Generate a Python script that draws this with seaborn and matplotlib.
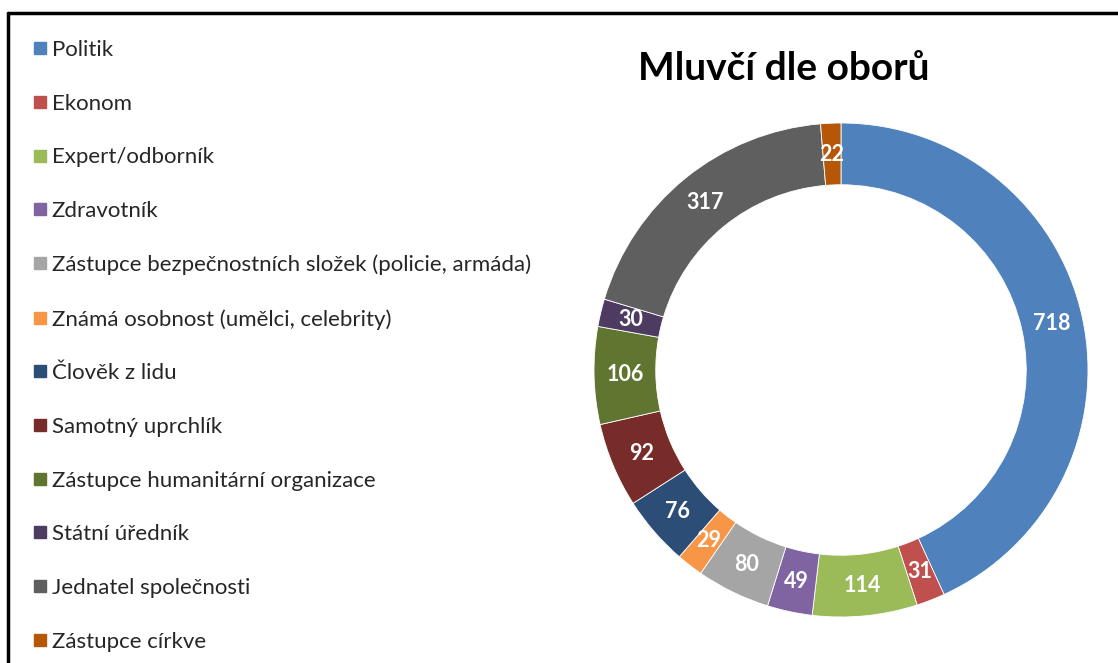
import numpy as np
import matplotlib.pyplot as plt
import seaborn as sns
from matplotlib.lines import Line2D

# Data
kategorie = ['Politik', 'Ekonom', 'Expert/odborník', 'Zdravotník',
             'Zástupce bezpečnostních složek (policie, armáda)',
             'Známá osobnost (umělci, celebrity)', 'Člověk z lidu',
             'Samotný uprchlík', 'Zástupce humanitární organizace',
             'Státní úředník', 'Jednatel společnosti', 'Zástupce církve']
pocty = [718, 31, 114, 49, 80, 29, 76, 92, 106, 30, 317, 22]
barvy = ['#4f81bd', '#c0504d', '#9bbb59', '#8064a2', '#a5a5a5', '#f79646',
         '#2c4d75', '#772c2a', '#5f7530', '#4d3b62', '#5f5f5f', '#b65708']

sns.set_style('white')
plt.rcParams['font.family'] = ['Lato', 'DejaVu Sans']

fig = plt.figure(figsize=(11.18, 6.63), dpi=100)
W, H = 1118, 663

# donut axes: centre (841, 370) px, outer radius 247 px
cx, cy, r = 841, 370, 247
ax = fig.add_axes([(cx - r) / W, (H - cy - r) / H, 2 * r / W, 2 * r / H])

wedges, _, popisky = ax.pie(pocty, colors=barvy, startangle=90, counterclock=False,
                            radius=1, autopct=lambda p: f'{p * sum(pocty) / 100:.0f}',
                            pctdistance=0.875,
                            wedgeprops=dict(width=0.25, edgecolor='white', linewidth=0.6),
                            textprops=dict(color='white', fontsize=15.5, fontweight='bold'))
ax.set_xlim(-1, 1)
ax.set_ylim(-1, 1)
ax.axis('off')

fig.text(784 / W, 1 - 68 / H, 'Mluvčí dle oborů', ha='center', va='center',
         fontsize=28, fontweight='bold', color='black')

handles = [Line2D([], [], marker='s', linestyle='none', markersize=8,
                  markerfacecolor=c, markeredgecolor=c) for c in barvy]
fig.legend(handles, kategorie, loc='upper left', bbox_to_anchor=(34 / W, 1 - 40 / H),
           frameon=False, fontsize=16, labelspacing=1.515, handlelength=0.55,
           handletextpad=0.25, borderaxespad=0, borderpad=0)

# frame around the chart area (cut off at right and bottom)
fig.add_artist(Line2D([8 / W, 1], [1 - 13 / H, 1 - 13 / H], transform=fig.transFigure,
                      color='black', linewidth=2.5))
fig.add_artist(Line2D([8 / W, 8 / W], [1 - 13 / H, 0], transform=fig.transFigure,
                      color='black', linewidth=2.5))

fig.savefig('out.png', dpi=100)
